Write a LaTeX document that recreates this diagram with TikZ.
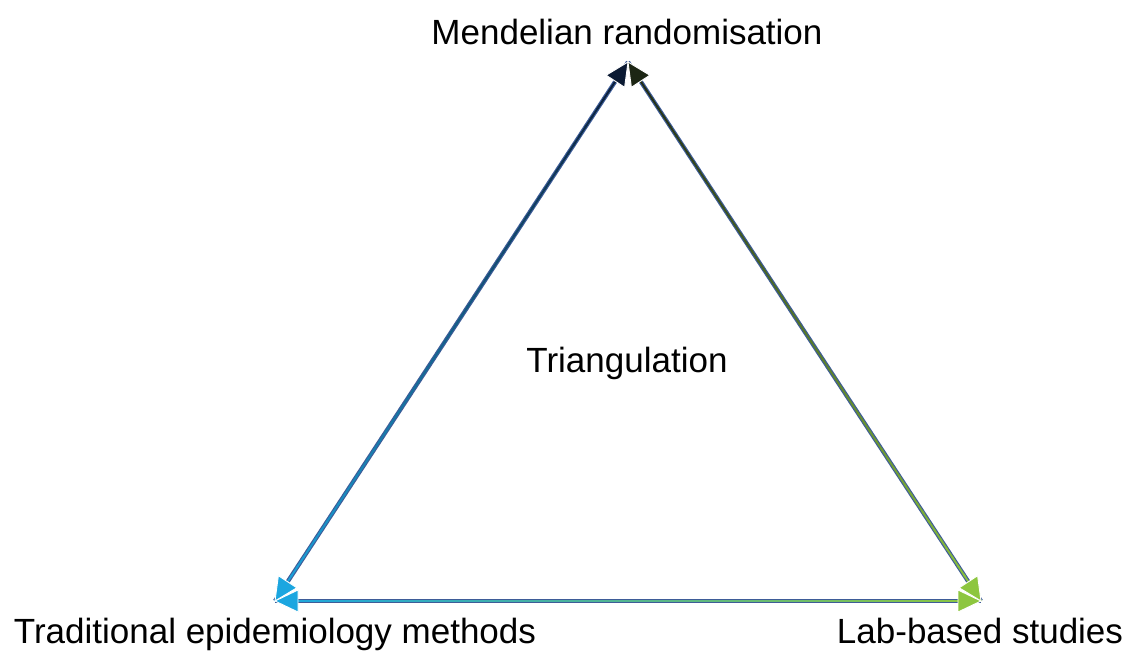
\documentclass[tikz,border=0pt]{standalone}
\usepackage{fontspec}
\setmainfont{Liberation Sans}
\usetikzlibrary{calc}

\definecolor{navyend}{HTML}{0B1A33}
\definecolor{oliveend}{HTML}{1C2614}
\definecolor{cyanend}{HTML}{1BA6E0}
\definecolor{greenend}{HTML}{8DC63F}
\definecolor{edgeline}{HTML}{3E5C98}

\tikzset{
  label/.style={font=\fontsize{35}{42}\selectfont, text=black, inner sep=0pt, anchor=base},
  corner/.style={inner sep=0pt, minimum size=0pt},
}

% gradient edge: #1 start, #2 end, #3 colour at start, #4 colour at end
\newcommand{\gradedge}[4]{%
  \draw[edgeline, line width=4.2pt] (#1) -- (#2);
  \foreach \k in {0,...,59}{%
    \pgfmathsetmacro{\ta}{\k/60}%
    \pgfmathsetmacro{\tb}{(\k+1.3)/60}%
    \pgfmathsetmacro{\pc}{100-100*(\k+0.5)/60}%
    \colorlet{segcol}{#3!\pc!#4}%
    \draw[segcol, line width=1.9pt] ($(#1)!\ta!(#2)$) -- ($(#1)!{min(\tb,1)}!(#2)$);
  }%
}

% filled arrow head with its tip on #1, pointing away from #2
\newcommand{\headat}[3]{%
  \coordinate (hb) at ($(#1)!23pt!(#2)$);
  \filldraw[fill=#3, draw=white, line width=0.9pt, line join=miter]
    (#1) -- ($(hb)!11pt!90:(#1)$) -- ($(hb)!11pt!-90:(#1)$) -- cycle;
}

\begin{document}
\begin{tikzpicture}[x=1pt, y=-1pt]
  \useasboundingbox (0,0) rectangle (1133,651);

  \coordinate (MR) at (628,62);
  \coordinate (TE) at (275,601);
  \coordinate (LB) at (981,601);

  % connectors
  \gradedge{MR}{TE}{navyend}{cyanend}
  \gradedge{MR}{LB}{oliveend}{greenend}
  \gradedge{TE}{LB}{cyanend}{greenend}

  % arrow heads at both ends of every connector
  \headat{MR}{TE}{navyend}
  \headat{MR}{LB}{oliveend}
  \headat{TE}{MR}{cyanend}
  \headat{TE}{LB}{cyanend}
  \headat{LB}{MR}{greenend}
  \headat{LB}{TE}{greenend}

  % labels
  \node[label] (mrtext) at (627,44) {Mendelian randomisation};
  \node[label] (tritext) at (627,372) {Triangulation};
  \node[label] (tetext) at (275,643) {Traditional epidemiology methods};
  \node[label] (lbtext) at (980,643) {Lab-based studies};
\end{tikzpicture}
\end{document}
